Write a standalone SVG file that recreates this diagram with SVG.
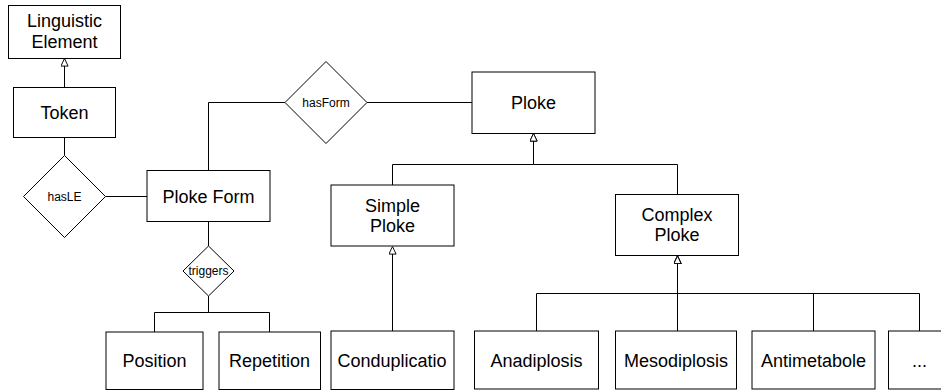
<svg xmlns="http://www.w3.org/2000/svg" width="941" height="392" viewBox="0 0 941 392">
<style>
.n{fill:#fff;stroke:#000;stroke-width:1}
.t{font-family:"Liberation Sans",Arial,sans-serif;font-size:18px;fill:#000;text-anchor:middle}
.s{font-family:"Liberation Sans",Arial,sans-serif;font-size:12px;fill:#000;text-anchor:middle}
.e{fill:none;stroke:#000;stroke-width:1}
</style>
<defs>
<marker id="tri" viewBox="0 0 10 10" refX="10" refY="5" markerWidth="8" markerHeight="8" markerUnits="userSpaceOnUse" orient="auto">
<path d="M0.5,0.5 L10,5 L0.5,9.5 Z" fill="#fff" stroke="#000" stroke-width="1.2"/>
</marker>
</defs>
<rect width="941" height="392" fill="#fff"/>
<g id="connectors">
<path class="e" d="M64.5,87.5 V58.5" marker-end="url(#tri)"/>
<path class="e" d="M64.5,137.5 V155.5"/>
<path class="e" d="M105.5,196.5 H147"/>
<path class="e" d="M208.5,170.5 V102.5 H285"/>
<path class="e" d="M367,102.5 H472"/>
<path class="e" d="M392.5,185 V164.5 H533.5 V133.5" marker-end="url(#tri)"/>
<path class="e" d="M677.5,194.5 V164.5 H533.5 V133.5" marker-end="url(#tri)"/>
<path class="e" d="M208.5,221.5 V246"/>
<path class="e" d="M208.5,296 V312.5 H154.5 V332"/>
<path class="e" d="M208.5,296 V312.5 H269.5 V332"/>
<path class="e" d="M392.5,331 V246.5" marker-end="url(#tri)"/>
<path class="e" d="M536.5,331 V293.5 H677.5 V256" marker-end="url(#tri)"/>
<path class="e" d="M677.5,331 V293.5 H677.5 V256" marker-end="url(#tri)"/>
<path class="e" d="M813.5,331 V293.5 H677.5 V256" marker-end="url(#tri)"/>
<path class="e" d="M919.5,331 V293.5 H677.5 V256" marker-end="url(#tri)"/>
</g>
<g id="linguistic-element"><rect class="n" x="8.5" y="5.5" width="112" height="53"/><text class="t" x="64.5" y="27">Linguistic</text><text class="t" x="64.5" y="48">Element</text></g>
<g id="token"><rect class="n" x="13.5" y="87.5" width="102" height="50"/><text class="t" x="64.5" y="119">Token</text></g>
<g id="hasLE"><polygon class="n" points="64.5,155.5 105.5,196.5 64.5,237.5 23.5,196.5"/><text class="s" x="64.5" y="200.5">hasLE</text></g>
<g id="ploke-form"><rect class="n" x="147" y="170.5" width="123" height="51"/><text class="t" x="208.5" y="202.5">Ploke Form</text></g>
<g id="hasForm"><polygon class="n" points="326,61.5 367,102.5 326,143.5 285,102.5"/><text class="s" x="326" y="106.5">hasForm</text></g>
<g id="ploke"><rect class="n" x="472" y="72" width="123" height="61.5"/><text class="t" x="533.5" y="109">Ploke</text></g>
<g id="simple-ploke"><rect class="n" x="331" y="185" width="123" height="61"/><text class="t" x="392.5" y="211.5">Simple</text><text class="t" x="392.5" y="232">Ploke</text></g>
<g id="complex-ploke"><rect class="n" x="615.5" y="194.5" width="123" height="61"/><text class="t" x="677" y="220.5">Complex</text><text class="t" x="677" y="241">Ploke</text></g>
<g id="triggers"><polygon class="n" points="208.5,246 234,271 208.5,296 183,271"/><text class="s" x="208.5" y="275">triggers</text></g>
<g id="position"><rect class="n" x="106" y="332" width="97" height="57.5"/><text class="t" x="154.5" y="367">Position</text></g>
<g id="repetition"><rect class="n" x="219" y="332" width="101.5" height="57.5"/><text class="t" x="269.5" y="367">Repetition</text></g>
<g id="conduplicatio"><rect class="n" x="331" y="331" width="123" height="58.5"/><text class="t" x="392" y="367">Conduplicatio</text></g>
<g id="anadiplosis"><rect class="n" x="474.5" y="331" width="124" height="58"/><text class="t" x="536.5" y="367">Anadiplosis</text></g>
<g id="mesodiplosis"><rect class="n" x="615.5" y="331" width="121" height="58"/><text class="t" x="676" y="367">Mesodiplosis</text></g>
<g id="antimetabole"><rect class="n" x="752" y="331" width="123" height="58"/><text class="t" x="813.5" y="367">Antimetabole</text></g>
<g id="more"><rect class="n" x="888.5" y="331" width="62" height="58"/><text class="t" x="919.5" y="367">...</text></g>
</svg>
